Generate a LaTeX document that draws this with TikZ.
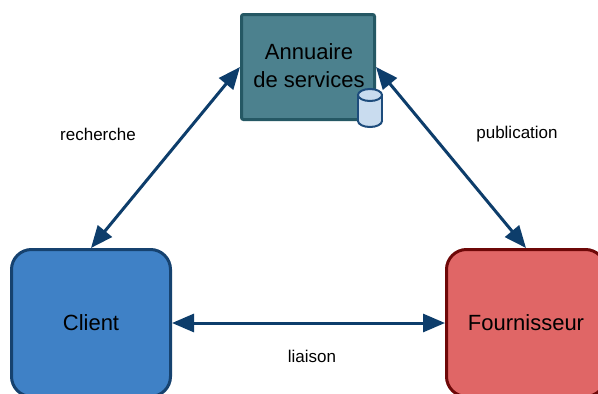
\documentclass[tikz,border=0pt]{standalone}
\usepackage{fontspec}
\setmainfont{Liberation Sans}
\usetikzlibrary{arrows.meta}
\definecolor{annfill}{HTML}{4C818E}
\definecolor{anndraw}{HTML}{255864}
\definecolor{clifill}{HTML}{3F81C6}
\definecolor{clidraw}{HTML}{16426F}
\definecolor{foufill}{HTML}{E06666}
\definecolor{foudraw}{HTML}{6E0808}
\definecolor{arrcol}{HTML}{0D3D6B}
\definecolor{dbfill}{HTML}{C9DCEF}
\definecolor{dbdraw}{HTML}{1D4C7C}
\tikzset{
  mainbox/.style={draw, line width=3pt, font=\fontsize{22}{26}\selectfont, align=center, inner sep=0pt},
  conn/.style={draw=arrcol, line width=3pt, {Triangle[length=22pt,width=18pt]}-{Triangle[length=22pt,width=18pt]}},
  lbl/.style={font=\fontsize{17}{20}\selectfont, inner sep=0pt},
  db/.style={fill=dbfill, draw=dbdraw, line width=2pt}
}
\begin{document}
\begin{tikzpicture}[x=1pt,y=-1pt]
\useasboundingbox (0,0) rectangle (598,394);
\clip (0,0) rectangle (598,394);
\fill[white] (0,0) rectangle (598,394);
\node[mainbox, fill=annfill, draw=anndraw, rounded corners=2pt, minimum width=133pt, minimum height=105pt] (annu) at (308,67) {};
\node[inner sep=0pt, font=\fontsize{22}{28}\selectfont, align=center] (annutxt) at (309,66) {Annuaire\\de services};
\node[mainbox, fill=clifill, draw=clidraw, rounded corners=20pt, minimum width=159pt, minimum height=147pt] (client) at (91,323) {Client};
\node[mainbox, fill=foufill, draw=foudraw, rounded corners=20pt, minimum width=159pt, minimum height=147pt] (four) at (526,323) {Fournisseur};
% database icon
\coordinate (dbc) at (370,108);
\draw[db] (370,121) ellipse [x radius=12, y radius=6];
\fill[dbfill] (358,95) rectangle (382,121);
\draw[db] (358,95) -- (358,121) (382,95) -- (382,121);
\draw[db] (370,95) ellipse [x radius=12, y radius=6];
% connectors
\draw[conn] (client.north) -- (annu.west);
\draw[conn] (annu.east) -- (four.north);
\draw[conn] (client.east) -- (four.west);
% labels
\node[lbl] (lrech) at (98,134) {recherche};
\node[lbl] (lpub) at (517,134) {publication};
\node[lbl] (lliai) at (312,356) {liaison};
\end{tikzpicture}
\end{document}
